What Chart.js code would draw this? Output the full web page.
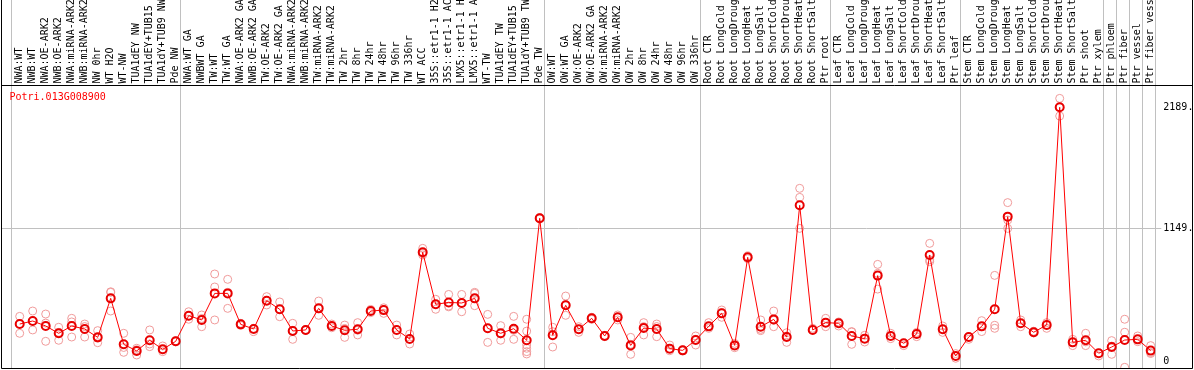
<!DOCTYPE html>
<html>
<head>
<meta charset="utf-8">
<script src="https://cdn.jsdelivr.net/npm/chart.js@4"></script>
<style>
html,body{margin:0;padding:0;background:#fff;}
canvas{display:block;}
</style>
</head>
<body>
<canvas id="c" width="1194" height="370"></canvas>
<script>
const geneId = "Potri.013G008900";

const categories = ["NWA:WT","NWB:WT","NWA:OE-ARK2","NWB:OE-ARK2","NWA:miRNA-ARK2","NWB:miRNA-ARK2","NW 0hr","WT H2O","WT-NW","TUA1dEY NW","TUA1dEY+TUB15 NW","TUA1dY+TUB9 NW","Pde NW","NWA:WT GA","NWBWT GA","TW:WT","TW:WT GA","NWA:OE-ARK2 GA","NWB:OE-ARK2 GA","TW:OE-ARK2","TW:OE-ARK2 GA","NWA:miRNA-ARK2 GA","NWB:miRNA-ARK2 GA","TW:miRNA-ARK2","TW:miRNA-ARK2 GA","TW 2hr","TW 8hr","TW 24hr","TW 48hr","TW 96hr","TW 336hr","WT ACC","35S::etr1-1 H2O","35S::etr1-1 ACC","LMX5::etr1-1 H2O","LMX5::etr1-1 ACC","WT-TW","TUA1dEY TW","TUA1dEY+TUB15 TW","TUA1dY+TUB9 TW","Pde TW","OW:WT","OW:WT GA","OW:OE-ARK2","OW:OE-ARK2 GA","OW:miRNA-ARK2","OW:miRNA-ARK2 GA","OW 2hr","OW 8hr","OW 24hr","OW 48hr","OW 96hr","OW 336hr","Root CTR","Root LongCold","Root LongDrought","Root LongHeat","Root LongSalt","Root ShortCold","Root ShortDrought","Root ShortHeat","Root ShortSalt","Ptr root","Leaf CTR","Leaf LongCold","Leaf LongDrought","Leaf LongHeat","Leaf LongSalt","Leaf ShortCold","Leaf ShortDrought","Leaf ShortHeat","Leaf ShortSalt","Ptr leaf","Stem CTR","Stem LongCold","Stem LongDrought","Stem LongHeat","Stem LongSalt","Stem ShortCold","Stem ShortDrought","Stem ShortHeat","Stem ShortSalt","Ptr shoot","Ptr xylem","Ptr phloem","Ptr fiber","Ptr vessel","Ptr fiber vessel"];

const meanValues = [322,348,305,242,305,279,207,543,147,90,182,104,173,394,357,586,586,319,279,523,449,262,271,457,305,268,277,434,442,271,193,940,492,508,503,543,285,242,282,182,1233,225,483,277,371,219,380,138,287,279,110,95,184,302,414,138,897,299,362,210,1345,271,334,328,219,196,739,219,156,236,917,277,47,210,302,449,1247,328,251,314,2189,164,182,70,124,184,190,93];

const replicateValues = [
 [388,322,242],[434,348,271],[408,330,173],[294,250,182],[371,340,210],[322,300,210],[265,200,161],[595,600,434],[242,120,78],[113,100,55],
 [271,150,127],[133,100,84],[178,168],[428,390,363],[400,370,299],[753,641,357],[707,595,457],[328,310],[285,257],[558,526,486],
 [512,449,385],[328,268,190],[275,266],[520,454,397],[322,290],[313,284,207],[334,268,228],[448,434,420],[462,448,414],[313,271,228],
 [236,193,150],[974,930,917],[535,492,449],[577,470,477],[577,503,428],[595,586,480],[405,285,164],[308,236,182],[388,268,190],[363,261,141,113,84,64],
 [1240,1228],[294,256,124],[563,489,397],[299,277,250],[380,362],[225,213],[400,380,357],[207,147,61],[334,300,228],[322,300,213],
 [141,110,92],[100,90],[219,190,141],[334,302,285],[443,420,380],[155,138,118],[909,897,885],[357,276,265],[434,354,299],[247,219,164],
 [1491,1413,1146],[285,271],[371,334,299],[305,340],[257,253,147],[225,196,167],[836,759,623],[242,219,196],[136,156],[250,236,213],
 [1017,875,859],[305,277,250],[67,47,27],[210,190],[351,299,257],[741,311,285],[1368,1218,1146],[357,328,299],[260,245],[334,314,285],
 [2266,2189,2114],[190,164,136],[242,168,136],[70,47],[179,132,61],[363,251,-51],[219,190,170],[136,76,68]
];

const yTickValues = [0, 1149, 2189];
const groupBoundaries = [0, 13, 41, 53, 63, 73, 84, 85, 86, 87, 88];

const FONT = "'DejaVu Sans Mono', 'Liberation Mono', monospace";
const X_MIN = -0.4, X_MAX = 88.354, GRID_SHIFT = 0.354;
const Y_MIN = -61.2, Y_MAX = 2377;

const meanPoints = meanValues.map((v, i) => ({x: i + 1, y: v}));
const repPoints = [];
replicateValues.forEach((arr, i) => arr.forEach(v => repPoints.push({x: i + 1, y: v})));

const framePlugin = {
  id: 'frame',
  beforeDatasetsDraw(chart) {
    const ctx = chart.ctx, top = chart.chartArea.top, xg = chart.scales.xg;
    ctx.save();
    ctx.strokeStyle = '#c0c0c0';
    ctx.lineWidth = 1;
    xg.ticks.forEach(t => {
      const x = Math.round(xg.getPixelForValue(t.value)) + 0.5;
      ctx.beginPath(); ctx.moveTo(x, 0); ctx.lineTo(x, top); ctx.stroke();
    });
    ctx.restore();
  },
  afterDraw(chart) {
    const ctx = chart.ctx;
    ctx.save();
    ctx.strokeStyle = '#000';
    ctx.lineWidth = 1;
    ctx.beginPath();
    ctx.moveTo(1.5, 0); ctx.lineTo(1.5, 368.5);
    ctx.lineTo(1192.5, 368.5); ctx.lineTo(1192.5, 0);
    ctx.moveTo(1.5, 85.5); ctx.lineTo(1192.5, 85.5);
    ctx.stroke();
    ctx.fillStyle = '#ff0000';
    ctx.font = "10px " + FONT;
    ctx.textBaseline = 'middle';
    ctx.textAlign = 'left';
    ctx.fillText(geneId, 9.5, 97.5);
    ctx.restore();
  }
};

new Chart(document.getElementById('c'), {
  type: 'line',
  data: {
    datasets: [
      {
        label: 'mean',
        data: meanPoints,
        xAxisID: 'x',
        yAxisID: 'y',
        borderColor: '#ff0000',
        borderWidth: 1,
        pointRadius: 4,
        pointBorderWidth: 2,
        pointBorderColor: '#e80000',
        pointBackgroundColor: 'rgba(255,255,255,0)',
        tension: 0,
        order: 0
      },
      {
        label: 'replicates',
        type: 'scatter',
        data: repPoints,
        xAxisID: 'x',
        yAxisID: 'y',
        showLine: false,
        pointRadius: 4,
        pointBorderWidth: 1,
        pointBorderColor: '#f09a9a',
        pointBackgroundColor: 'rgba(255,255,255,0)',
        order: 1
      }
    ]
  },
  options: {
    responsive: false,
    devicePixelRatio: 1,
    animation: false,
    events: [],
    layout: {autoPadding: false, padding: {left: 1.5, right: 0, top: 0, bottom: 0}},
    plugins: {legend: {display: false}, tooltip: {enabled: false}, title: {display: false}},
    scales: {
      x: {
        type: 'linear',
        position: 'top',
        min: X_MIN, max: X_MAX,
        afterBuildTicks: s => { s.ticks = categories.map((_, i) => ({value: i + 1})); },
        afterFit: s => { s.height = 85.5; s.paddingLeft = 0; s.paddingRight = 0; },
        grid: {display: false, drawTicks: false},
        border: {display: false},
        ticks: {
          autoSkip: false,
          minRotation: 90, maxRotation: 90,
          padding: 2,
          labelOffset: 12,
          color: '#000',
          font: {family: FONT, size: 10},
          callback: v => categories[Math.round(v) - 1]
        }
      },
      xg: {
        type: 'linear',
        position: 'bottom',
        min: X_MIN, max: X_MAX,
        afterBuildTicks: s => { s.ticks = groupBoundaries.map(k => ({value: k + GRID_SHIFT})); },
        afterFit: s => { s.height = 1.5; s.paddingLeft = 0; s.paddingRight = 0; },
        grid: {display: true, color: '#c0c0c0', lineWidth: 1, drawTicks: false},
        border: {display: false},
        ticks: {display: false}
      },
      y: {
        type: 'linear',
        position: 'right',
        min: Y_MIN, max: Y_MAX,
        afterBuildTicks: s => { s.ticks = yTickValues.map(v => ({value: v})); },
        afterFit: s => { s.width = 38.7; s.paddingTop = 0; s.paddingBottom = 0; },
        grid: {
          color: ctx => (ctx.tick && ctx.tick.value === 1149) ? '#c0c0c0' : 'rgba(0,0,0,0)',
          lineWidth: 1,
          tickLength: 6
        },
        border: {display: false},
        ticks: {
          padding: 2,
          color: '#000',
          font: {family: FONT, size: 10},
          callback: v => v === 0 ? '0' : v + '.'
        }
      }
    }
  },
  plugins: [framePlugin]
});
</script>
</body>
</html>
